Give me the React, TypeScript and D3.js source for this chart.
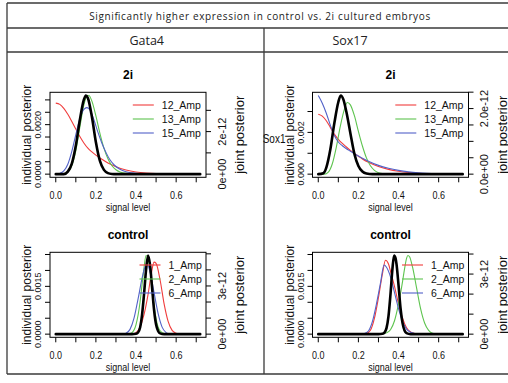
import React from "react";
import * as d3 from "d3";

type Pt = [number, number];

// signal level vs posterior; individual posteriors in 1e-3, joint posterior in 1e-12
const gata4_2i_amp12: Pt[] = [[0, 2.87], [0.02, 2.82], [0.04, 2.66], [0.06, 2.42], [0.08, 2.13], [0.1, 1.82], [0.12, 1.52], [0.14, 1.26], [0.16, 1.05], [0.18, 0.9], [0.2, 0.77], [0.23, 0.6], [0.26, 0.45], [0.3, 0.3], [0.35, 0.17], [0.4, 0.09], [0.45, 0.045], [0.5, 0.02], [0.6, 0.005], [0.72, 0]];
const gata4_2i_amp13: Pt[] = [[0, 0], [0.04, 0], [0.06, 0.08], [0.08, 0.35], [0.1, 0.95], [0.12, 1.9], [0.14, 2.8], [0.155, 3.15], [0.165, 3.18], [0.18, 2.95], [0.2, 2.35], [0.22, 1.65], [0.24, 1.05], [0.26, 0.62], [0.28, 0.34], [0.3, 0.18], [0.32, 0.09], [0.35, 0.03], [0.4, 0.005], [0.45, 0], [0.72, 0]];
const gata4_2i_amp15: Pt[] = [[0, 0], [0.02, 0.03], [0.04, 0.13], [0.06, 0.4], [0.08, 0.92], [0.1, 1.6], [0.12, 2.25], [0.14, 2.62], [0.155, 2.69], [0.17, 2.6], [0.19, 2.2], [0.21, 1.7], [0.23, 1.25], [0.25, 0.88], [0.27, 0.58], [0.29, 0.38], [0.32, 0.2], [0.35, 0.1], [0.4, 0.035], [0.45, 0.01], [0.5, 0], [0.72, 0]];
const gata4_2i_joint: Pt[] = [[0, 0], [0.04, 0], [0.06, 0.12], [0.08, 0.5], [0.1, 1.35], [0.12, 2.55], [0.14, 3.5], [0.15, 3.7], [0.16, 3.58], [0.18, 2.7], [0.2, 1.5], [0.22, 0.62], [0.24, 0.2], [0.26, 0.05], [0.28, 0.01], [0.3, 0], [0.72, 0]];

const sox17_2i_amp12: Pt[] = [[0, 2.87], [0.02, 2.78], [0.04, 2.56], [0.06, 2.24], [0.08, 1.92], [0.1, 1.67], [0.12, 1.47], [0.14, 1.3], [0.16, 1.14], [0.18, 0.99], [0.2, 0.86], [0.22, 0.73], [0.25, 0.57], [0.3, 0.37], [0.35, 0.23], [0.4, 0.14], [0.45, 0.08], [0.5, 0.045], [0.6, 0.012], [0.72, 0]];
const sox17_2i_amp13: Pt[] = [[0, 0], [0.03, 0], [0.05, 0.1], [0.07, 0.5], [0.09, 1.3], [0.11, 2.3], [0.13, 3.1], [0.145, 3.43], [0.16, 3.32], [0.18, 2.8], [0.2, 2.05], [0.22, 1.35], [0.24, 0.78], [0.26, 0.4], [0.28, 0.18], [0.3, 0.07], [0.33, 0.015], [0.36, 0], [0.72, 0]];
const sox17_2i_amp15: Pt[] = [[0, 3.77], [0.02, 3.4], [0.04, 2.92], [0.06, 2.35], [0.08, 1.85], [0.1, 1.54], [0.12, 1.36], [0.14, 1.22], [0.16, 1.1], [0.18, 0.98], [0.2, 0.87], [0.22, 0.76], [0.25, 0.62], [0.3, 0.42], [0.35, 0.28], [0.4, 0.18], [0.45, 0.11], [0.5, 0.065], [0.6, 0.022], [0.72, 0.005]];
const sox17_2i_joint: Pt[] = [[0, 0], [0.025, 0.03], [0.04, 0.2], [0.06, 0.75], [0.08, 1.55], [0.1, 2.2], [0.112, 2.4], [0.125, 2.28], [0.14, 1.9], [0.16, 1.25], [0.18, 0.62], [0.2, 0.25], [0.22, 0.08], [0.24, 0.02], [0.27, 0], [0.72, 0]];

const gata4_ctl_amp1: Pt[] = [[0, 0], [0.38, 0], [0.4, 0.05], [0.42, 0.22], [0.44, 0.62], [0.46, 1.25], [0.475, 1.85], [0.49, 2.26], [0.5, 2.22], [0.52, 1.7], [0.54, 0.95], [0.56, 0.4], [0.58, 0.12], [0.6, 0.03], [0.62, 0], [0.72, 0]];
const gata4_ctl_amp2: Pt[] = [[0, 0], [0.36, 0], [0.38, 0.05], [0.4, 0.3], [0.42, 1.0], [0.43, 1.55], [0.44, 2.1], [0.45, 2.47], [0.46, 2.4], [0.47, 2.02], [0.48, 1.45], [0.49, 0.9], [0.5, 0.48], [0.52, 0.1], [0.54, 0.02], [0.56, 0], [0.72, 0]];
const gata4_ctl_amp6: Pt[] = [[0, 0], [0.33, 0], [0.35, 0.03], [0.37, 0.15], [0.39, 0.5], [0.41, 1.1], [0.43, 1.75], [0.445, 2.12], [0.455, 2.2], [0.47, 1.95], [0.49, 1.3], [0.51, 0.65], [0.53, 0.22], [0.55, 0.05], [0.57, 0], [0.72, 0]];
const gata4_ctl_joint: Pt[] = [[0, 0], [0.38, 0], [0.4, 0.02], [0.41, 0.1], [0.42, 0.4], [0.43, 1.2], [0.44, 2.5], [0.45, 4.0], [0.46, 4.9], [0.47, 4.3], [0.48, 2.9], [0.49, 1.5], [0.5, 0.6], [0.51, 0.2], [0.52, 0.05], [0.54, 0], [0.72, 0]];

const sox17_ctl_amp1: Pt[] = [[0, 0], [0.22, 0], [0.24, 0.02], [0.26, 0.12], [0.28, 0.5], [0.3, 1.15], [0.32, 1.9], [0.335, 2.32], [0.35, 2.2], [0.36, 1.98], [0.38, 1.5], [0.4, 0.95], [0.42, 0.5], [0.44, 0.2], [0.46, 0.07], [0.48, 0.02], [0.5, 0], [0.72, 0]];
const sox17_ctl_amp2: Pt[] = [[0, 0], [0.3, 0], [0.32, 0.01], [0.34, 0.04], [0.36, 0.14], [0.38, 0.42], [0.4, 0.95], [0.42, 1.65], [0.43, 2.05], [0.44, 2.38], [0.447, 2.47], [0.455, 2.43], [0.47, 2.1], [0.49, 1.45], [0.51, 0.8], [0.53, 0.35], [0.55, 0.12], [0.57, 0.03], [0.6, 0], [0.72, 0]];
const sox17_ctl_amp6: Pt[] = [[0, 0], [0.21, 0], [0.23, 0.02], [0.25, 0.1], [0.27, 0.4], [0.29, 0.95], [0.31, 1.6], [0.328, 2.17], [0.34, 2.1], [0.36, 1.8], [0.38, 1.3], [0.4, 0.8], [0.42, 0.4], [0.44, 0.16], [0.46, 0.06], [0.48, 0.02], [0.5, 0], [0.72, 0]];
const sox17_ctl_joint: Pt[] = [[0, 0], [0.3, 0], [0.32, 0.02], [0.33, 0.08], [0.34, 0.3], [0.35, 0.9], [0.36, 2.0], [0.37, 3.3], [0.378, 3.93], [0.385, 3.8], [0.39, 3.5], [0.4, 2.45], [0.41, 1.3], [0.42, 0.55], [0.43, 0.18], [0.44, 0.05], [0.46, 0], [0.72, 0]];

const xTicks = [0, 0.1, 0.2, 0.3, 0.4, 0.5, 0.6, 0.7];
const xTickLabels = ["0.0", "", "0.2", "", "0.4", "", "0.6", ""];

const amps2i = ["12_Amp", "13_Amp", "15_Amp"];
const ampsCtl = ["1_Amp", "2_Amp", "6_Amp"];
const ampColors = ["#f03c3c", "#5ec44f", "#5262c8"];

const tableTitle = "Significantly higher expression in control vs. 2i cultured embryos";
const genes = ["Gata4", "Sox17"];

const FONT = "'Liberation Sans', Arial, Helvetica, sans-serif";
const W = 156;
const H = 85;

type PanelDef = {
  title: string;
  left: number;
  top: number;
  amps: string[];
  series: Pt[][];
  joint: Pt[];
  lTicks: number[];
  lLabels: string[];
  rTicks: number[];
  rLabels: string[];
};

const panels: PanelDef[] = [
  {
    title: "2i", left: 50, top: 92.3, amps: amps2i,
    series: [gata4_2i_amp12, gata4_2i_amp13, gata4_2i_amp15], joint: gata4_2i_joint,
    lTicks: [0, 0.5, 1, 1.5, 2, 2.5, 3], lLabels: ["0.0000", "", "", "", "0.0020", "", ""],
    rTicks: [0, 1, 2, 3], rLabels: ["0e+00", "", "2e-12", ""],
  },
  {
    title: "2i", left: 312.5, top: 92.3, amps: amps2i,
    series: [sox17_2i_amp12, sox17_2i_amp13, sox17_2i_amp15], joint: sox17_2i_joint,
    lTicks: [0, 1, 2, 3], lLabels: ["0.000", "", "0.002", ""],
    rTicks: [0, 0.5, 1, 1.5, 2, 2.5], rLabels: ["0.0e+00", "", "", "", "2.0e-12", ""],
  },
  {
    title: "control", left: 50, top: 252.3, amps: ampsCtl,
    series: [gata4_ctl_amp1, gata4_ctl_amp2, gata4_ctl_amp6], joint: gata4_ctl_joint,
    lTicks: [0, 0.5, 1, 1.5, 2, 2.5], lLabels: ["0.0000", "", "", "0.0015", "", ""],
    rTicks: [0, 1, 2, 3, 4, 5], rLabels: ["0e+00", "", "", "3e-12", "", ""],
  },
  {
    title: "control", left: 312.5, top: 252.3, amps: ampsCtl,
    series: [sox17_ctl_amp1, sox17_ctl_amp2, sox17_ctl_amp6], joint: sox17_ctl_joint,
    lTicks: [0, 0.5, 1, 1.5, 2, 2.5], lLabels: ["0.0000", "", "", "0.0015", "", ""],
    rTicks: [0, 1, 2, 3, 4], rLabels: ["0e+00", "", "", "3e-12", ""],
  },
];

function Panel({ p }: { p: PanelDef }) {
  const right = p.left + W;
  const bottom = p.top + H;
  const x = d3.scaleLinear().domain([-0.0288, 0.7488]).range([p.left, right]);
  const lMax = d3.max(p.series.flat(), (d) => d[1]) as number;
  const jMax = d3.max(p.joint, (d) => d[1]) as number;
  const yL = d3.scaleLinear().domain([-0.04 * lMax, 1.04 * lMax]).range([bottom, p.top]);
  const yR = d3.scaleLinear().domain([-0.04 * jMax, 1.04 * jMax]).range([bottom, p.top]);
  const lineL = d3.line<Pt>().x((d) => x(d[0])).y((d) => yL(d[1])).curve(d3.curveMonotoneX);
  const lineR = d3.line<Pt>().x((d) => x(d[0])).y((d) => yR(d[1])).curve(d3.curveMonotoneX);
  const cx = (p.left + right) / 2;
  const cy = (p.top + bottom) / 2;
  const maxLen = d3.max(p.amps, (a) => a.length) as number;
  const legX = right - 4 - maxLen * 6.7;

  return (
    <g fontFamily={FONT}>
      {p.series.map((s, i) => (
        <path key={i} d={lineL(s) || ""} fill="none" stroke={ampColors[i]} strokeWidth={1.1} />
      ))}
      <path d={lineR(p.joint) || ""} fill="none" stroke="#000" strokeWidth={2.6} strokeLinejoin="round" strokeLinecap="round" />

      {p.amps.map((a, i) => {
        const ly = p.top + 12.7 + 14 * i;
        return (
          <g key={a}>
            <line x1={legX - 29} x2={legX - 8} y1={ly} y2={ly} stroke={ampColors[i]} strokeWidth={1.1} />
            <text x={legX} y={ly} fontSize={10.5} dominantBaseline="central" fill="#111">{a}</text>
          </g>
        );
      })}

      <rect x={p.left} y={p.top} width={W} height={H} fill="none" stroke="#000" strokeWidth={1} />

      {xTicks.map((t, i) => (
        <g key={t}>
          <line x1={x(t)} x2={x(t)} y1={bottom} y2={bottom + 5} stroke="#000" />
          {xTickLabels[i] && (
            <text transform={`translate(${x(t)},${bottom + 21.8}) scale(1,1.2)`} textAnchor="middle" fontSize={9} fill="#111">
              {xTickLabels[i]}
            </text>
          )}
        </g>
      ))}
      <text transform={`translate(${cx},${bottom + 33.4}) scale(1,1.15)`} textAnchor="middle" fontSize={9} fill="#111">
        signal level
      </text>

      {p.lTicks.map((t, i) => (
        <g key={t}>
          <line x1={p.left - 5} x2={p.left} y1={yL(t)} y2={yL(t)} stroke="#000" />
          {p.lLabels[i] && (
            <text transform={`translate(${p.left - 12},${yL(t)}) rotate(-90)`} textAnchor="middle" dominantBaseline="central" fontSize={9} fill="#111">
              {p.lLabels[i]}
            </text>
          )}
        </g>
      ))}
      <text transform={`translate(${p.left - 23},${cy}) rotate(-90)`} textAnchor="middle" dominantBaseline="central" fontSize={12} fill="#111">
        individual posterior
      </text>

      {p.rTicks.map((t, i) => (
        <g key={t}>
          <line x1={right} x2={right + 5} y1={yR(t)} y2={yR(t)} stroke="#000" />
          {p.rLabels[i] && (
            <text transform={`translate(${right + 15.5},${yR(t)}) rotate(-90)`} textAnchor="middle" dominantBaseline="central" fontSize={11} fill="#111">
              {p.rLabels[i]}
            </text>
          )}
        </g>
      ))}
      <text transform={`translate(${right + 33.5},${cy}) rotate(-90)`} textAnchor="middle" dominantBaseline="central" fontSize={13} fill="#111">
        joint posterior
      </text>

      <text x={cx} y={p.top - 13.3} textAnchor="middle" fontSize={12} fontWeight="bold" fill="#000">
        {p.title}
      </text>
    </g>
  );
}

export default function App() {
  const tableFont = "'Open Sans', 'Liberation Sans', sans-serif";
  return (
    <svg width={508} height={383} style={{ position: "absolute", left: 0, top: 0, background: "#fff" }}>
      <rect x={0} y={0} width={508} height={383} fill="#fff" />
      {/* table frame */}
      <g stroke="#3a3a3a" strokeWidth={1.3}>
        <line x1={7} x2={520} y1={3} y2={3} />
        <line x1={7} x2={520} y1={28} y2={28} />
        <line x1={7} x2={520} y1={52} y2={52} />
        <line x1={7} x2={520} y1={374} y2={374} />
        <line x1={7} x2={7} y1={3} y2={374} />
        <line x1={264} x2={264} y1={28} y2={374} />
      </g>
      <text x={259.7} y={19.8} textAnchor="middle" fontFamily={tableFont} fontSize={10} textLength={341} fill="#222">
        {tableTitle}
      </text>
      <text x={146.7} y={45} textAnchor="middle" fontFamily={tableFont} fontSize={12.5} fill="#222">{genes[0]}</text>
      <text x={350} y={45} textAnchor="middle" fontFamily={tableFont} fontSize={12.5} fill="#222">{genes[1]}</text>

      <text transform="translate(262.7,143) scale(1,1.35)" fontFamily={FONT} fontSize={10} fill="#111">Sox1</text>

      {panels.map((p, i) => (
        <Panel key={i} p={p} />
      ))}
    </svg>
  );
}
